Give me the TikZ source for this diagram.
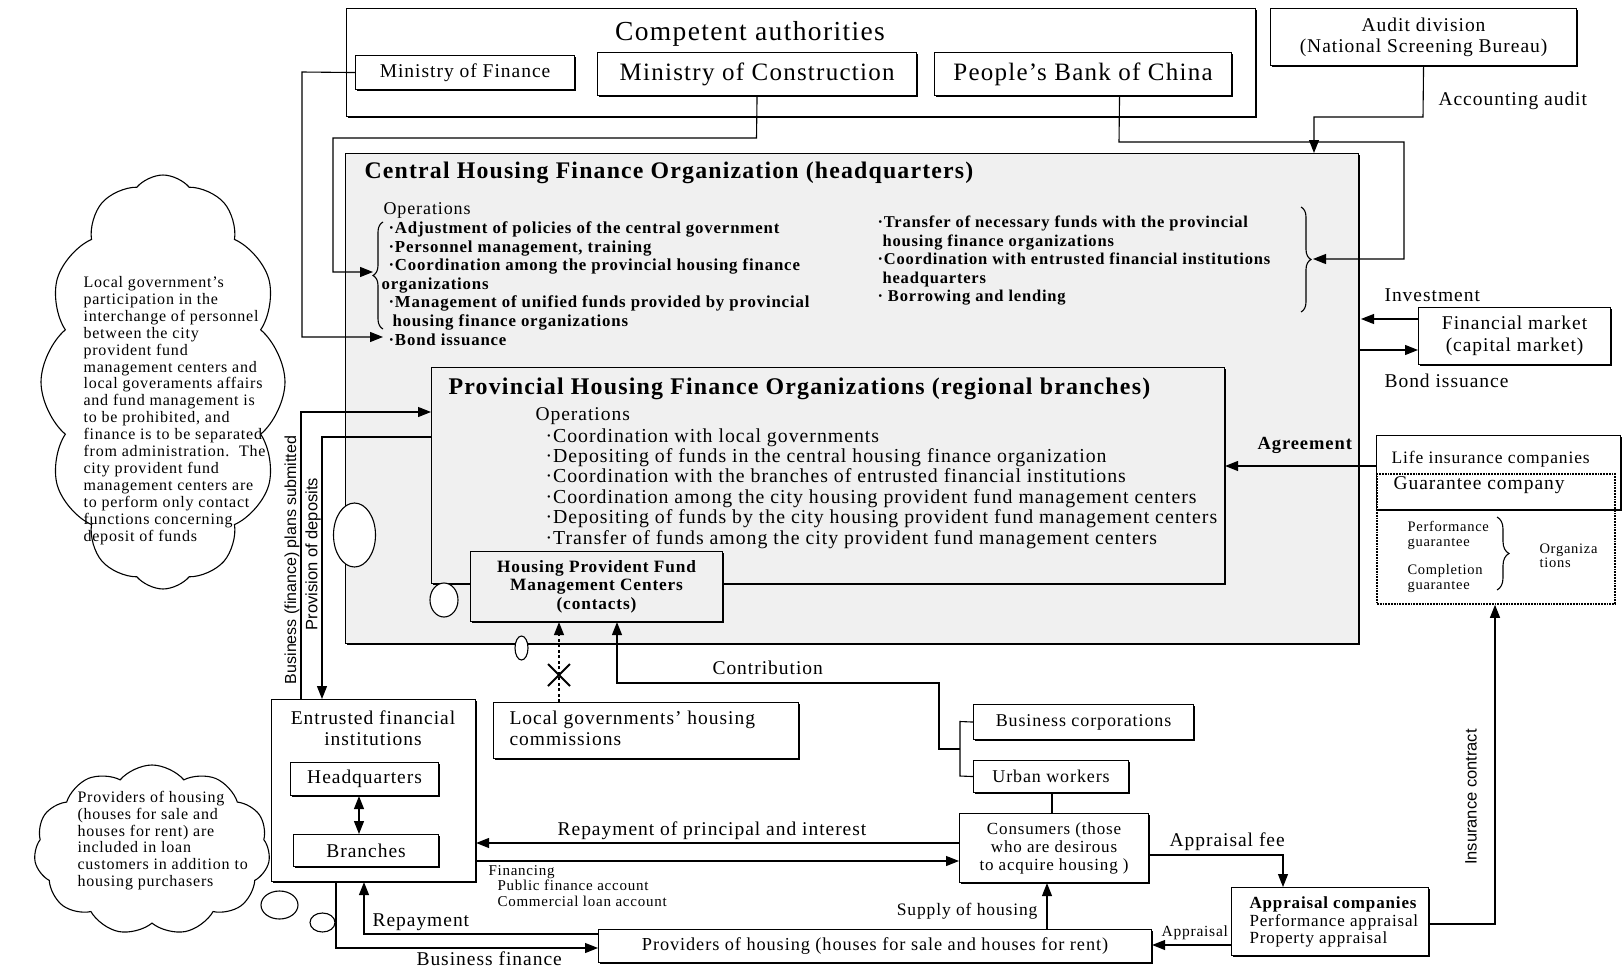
\documentclass[tikz,border=0pt]{standalone}
\usepackage{fontspec}
\setmainfont{Liberation Serif}[LetterSpace=5]
\newfontfamily\sansf{Liberation Sans}
\usetikzlibrary{arrows.meta,shapes.symbols,shadows,decorations.pathreplacing}
\newcommand\fs[2]{\fontsize{#1}{#2}\selectfont}
\newcommand\txtlines[6]{%
  \foreach \t [count=\i from 0] in {#6}
    \node[anchor=base west, inner sep=0pt, font={#5}] (#1\i) at (#2,{#3+\i*#4}) {\t};}
\begin{document}
\begin{tikzpicture}[x=1pt,y=-1pt,line width=1.1pt,
  >={Triangle[length=13pt,width=10pt]},
  box/.style={draw,line width=1.1pt,fill=white,inner sep=0pt,anchor=north west,
     general shadow={fill=black,shadow xshift=1.8pt,shadow yshift=-1.8pt}},
  lbl/.style={inner sep=0pt,font=\fs{19.5}{21}},
  sml/.style={inner sep=0pt,font=\fs{15.5}{16}},
  arr/.style={line width=1.1pt,->},
  brc/.style={line width=1.1pt,decorate,decoration={brace,amplitude=10pt}}
]
\fill[white] (0,0) rectangle (1622,969);
\useasboundingbox (0,0) rectangle (1622,969);

% ---------- competent authorities
\node[box,minimum width=909pt,minimum height=108pt] (comp) at (346,8) {};
\node[inner sep=0pt,font=\fs{27.5}{28}] (comptitle) at (750,34) {Competent authorities};
\node[box,minimum width=219pt,minimum height=34pt,font=\fs{19.5}{20}] (mof) at (355,55) {Ministry of Finance};
\node[box,minimum width=319pt,minimum height=43pt,font=\fs{25}{26}] (moc) at (597,52) {Ministry of Construction};
\node[box,minimum width=297pt,minimum height=43pt,font=\fs{25}{26}] (pboc) at (934,52) {People's Bank of China};
\node[box,minimum width=306pt,minimum height=57pt,align=center,font=\fs{19.5}{21}] (audit) at (1270,8) {Audit division\\(National Screening Bureau)};
\node[lbl,anchor=base west] (acclab) at (1438,105.5) {Accounting audit};

% ---------- central organisation
\node[box,fill=black!6,minimum width=1013pt,minimum height=490pt] (central) at (345,153) {};
\node[anchor=base west,inner sep=0pt,font=\bfseries\fs{23.8}{24}] (ctitle) at (364,178.5) {Central Housing Finance Organization (headquarters)};
\node[anchor=base west,inner sep=0pt,font=\fs{18}{18}] (cops) at (383,214) {Operations};
\txtlines{cl}{388}{233.5}{18.6}{\bfseries\fs{16.8}{17}}{{·Adjustment of policies of the central government},{·Personnel management, training},{·Coordination among the provincial housing finance}}
\node[anchor=base west,inner sep=0pt,font=\bfseries\fs{16.8}{17}] (clorg) at (381,289) {organizations};
\txtlines{cm}{388}{307.5}{18.8}{\bfseries\fs{16.8}{17}}{{·Management of unified funds provided by provincial},{\hspace*{4pt}housing finance organizations},{·Bond issuance}}
\txtlines{cr}{877}{227.5}{18.6}{\bfseries\fs{16.5}{17}}{{·Transfer of necessary funds with the provincial},{\hspace*{5pt}housing finance organizations},{·Coordination with entrusted financial institutions},{\hspace*{5pt}headquarters},{· Borrowing and lending}}
\draw[brc] (383,329) -- (383,222);
\draw[brc] (1301,207) -- (1301,312);

% ---------- provincial organisations
\node[box,fill=black!6,minimum width=793pt,minimum height=216pt] (prov) at (431,367) {};
\node[anchor=base west,inner sep=0pt,font=\bfseries\fs{23.9}{24}] (ptitle) at (448,394.5) {Provincial Housing Finance Organizations (regional branches)};
\node[anchor=base west,inner sep=0pt,font=\fs{19.5}{19}] (pops) at (535,420) {Operations};
\txtlines{pl}{545}{442}{20.4}{\fs{19.8}{19}}{{·Coordination with local governments},{·Depositing of funds in the central housing finance organization},{·Coordination with the branches of entrusted financial institutions},{·Coordination among the city housing provident fund management centers},{·Depositing of funds by the city housing provident fund management centers},{·Transfer of funds among the city provident fund management centers}}

\node[box,fill=black!6,minimum width=252pt,minimum height=70pt,align=center,font=\bfseries\fs{17.3}{18.5}] (hp) at (470,551) {Housing Provident Fund\\Management Centers\\(contacts)};

% ellipses
\draw[fill=white] (354.5,535) ellipse [x radius=21, y radius=32];
\draw[fill=white] (444,600) ellipse [x radius=14, y radius=17];
\draw[fill=white] (521.5,648) ellipse [x radius=6.5, y radius=12];
\draw[fill=white] (279.5,905) ellipse [x radius=18.5, y radius=14];
\draw[fill=white] (322.5,922.5) ellipse [x radius=12.5, y radius=9.5];

% ---------- right side
\node[box,minimum width=192pt,minimum height=57pt,align=center,font=\fs{19.5}{22}] (fm) at (1418,307) {Financial market\\(capital market)};
\node[lbl,anchor=base west] (invlab) at (1384,301.5) {Investment};
\node[lbl,anchor=base west] (bondlab) at (1384,387.5) {Bond issuance};
\node[box,minimum width=244pt,minimum height=74pt] (life) at (1376,435) {};
\node[anchor=base west,inner sep=0pt,font=\fs{17.5}{18}] (lifelab) at (1391,463) {Life insurance companies};
\node[draw,densely dotted,line width=1.8pt,minimum width=238pt,minimum height=130pt,anchor=north west,inner sep=0pt] (guar) at (1376,473) {};
\node[lbl,anchor=base west] (guarlab) at (1393,489.5) {Guarantee company};
\txtlines{pg}{1407}{531}{15.5}{\fs{14.5}{15}}{{Performance},{guarantee}}
\txtlines{cg}{1407}{574}{15.5}{\fs{14.5}{15}}{{Completion},{guarantee}}
\txtlines{og}{1539}{553}{14}{\fs{14.5}{15}}{{Organiza},{tions}}
\draw[brc,decoration={brace,amplitude=12pt}] (1497,517) -- (1497,590);
\node[anchor=base west,inner sep=0pt,font=\bfseries\fs{18.5}{19}] (agrlab) at (1257,449) {Agreement};

% ---------- lower part
\node[box,minimum width=305pt,minimum height=56pt] (lg) at (493,702) {};
\txtlines{lgt}{509}{724.5}{21}{\fs{19.5}{20}}{{Local governments' housing},{commissions}}

\node[box,minimum width=204pt,minimum height=182pt] (ent) at (271,699) {};
\node[inner sep=0pt,align=center,font=\fs{19.5}{21}] (enttitle) at (373,728) {Entrusted financial\\institutions};
\node[box,minimum width=148pt,minimum height=33pt,font=\fs{19.5}{20}] (hq) at (290,762) {Headquarters};
\node[box,minimum width=145pt,minimum height=32pt,font=\fs{19.5}{20}] (brn) at (293,834) {Branches};

\node[box,minimum width=220pt,minimum height=35pt,font=\fs{18}{18}] (bc) at (973,704) {Business corporations};
\node[box,minimum width=155pt,minimum height=32pt,font=\fs{18}{18}] (uw) at (973,760) {Urban workers};
\node[box,minimum width=189pt,minimum height=69pt,align=center,font=\fs{17}{18}] (cons) at (959,813) {Consumers (those\\who are desirous\\to acquire housing )};
\node[box,minimum width=197pt,minimum height=68pt] (appr) at (1231,887) {};
\node[anchor=base west,inner sep=0pt,font=\bfseries\fs{17}{18}] (apprt) at (1249,908) {Appraisal companies};
\txtlines{apl}{1249}{926}{17.5}{\fs{17}{18}}{{Performance appraisal},{Property appraisal}}
\node[box,minimum width=553pt,minimum height=33pt,font=\fs{18.3}{19}] (provh) at (598,929) {Providers of housing (houses for sale and houses for rent)};

% labels lower
\node[lbl,anchor=base] (reppi) at (712,835.5) {Repayment of principal and interest};
\txtlines{fin}{488}{875}{15.5}{\fs{15}{15}}{{Financing}}
\txtlines{acc}{497}{890.5}{15.5}{\fs{15}{15}}{{Public finance account},{Commercial loan account}}
\node[lbl,anchor=base west] (contrlab) at (712,674.5) {Contribution};
\node[lbl,anchor=base east,font=\fs{17.5}{18}] (supplab) at (1038,915) {Supply of housing};
\node[lbl,anchor=base west] (afeelab) at (1169,846.5) {Appraisal fee};
\node[sml,anchor=base west] (applab) at (1161,936.5) {Appraisal};
\node[lbl,anchor=base west] (replab) at (372,926.5) {Repayment};
\node[lbl,anchor=base west] (bflab) at (416,965) {Business finance};
\node[rotate=90,inner sep=0pt,font=\sansf\fs{16}{16}] (bplab) at (292,560) {Business (finance) plans submitted};
\node[rotate=90,inner sep=0pt,font=\sansf\fs{16.5}{17}] (provlab) at (313,554) {Provision of deposits};
\node[rotate=90,inner sep=0pt,font=\sansf\fs{16.5}{17}] (inslab) at (1471,797) {Insurance contract};

% clouds
\node[cloud,draw,line width=1.1pt,cloud puffs=12,cloud puff arc=100,cloud ignores aspect,minimum width=244pt,minimum height=414pt,inner sep=0pt] (cloud1) at (163,382) {};
\txtlines{ca}{83}{287.5}{16.9}{\fs{16}{16}}{{Local government's},{participation in the},{interchange of personnel},{between the city},{provident fund},{management centers and},{local goveraments affairs},{and fund management is},{to be prohibited, and},{finance is to be separated},{from administration.\ \ The},{city provident fund},{management centers are},{to perform only contact},{functions concerning},{deposit of funds}}
\node[cloud,draw,line width=1.1pt,cloud puffs=11,cloud puff arc=100,cloud ignores aspect,minimum width=236pt,minimum height=170pt,inner sep=0pt] (cloud2) at (152,850) {};
\txtlines{cb}{77}{802.5}{16.8}{\fs{16}{16}}{{Providers of housing},{(houses for sale and},{houses for rent) are},{included in loan},{customers in addition to},{housing purchasers}}

% ---------- connectors
\coordinate (bondin) at (383,337);
\draw[arr] (mof.west) -- (302,72) |- (bondin);
\coordinate (lbt) at (373,272);
\draw[arr] (moc.south) -- (756.5,138) -| (333,272) -- (lbt);
\coordinate (rbt) at (1313,259);
\draw[arr] ([xshift=36.5pt]pboc.south) -- (1119,142) -- (1404,142) |- (rbt);
\draw[arr] (audit.south) -- (1423,117) -| (central.north -| 1314,0);
\draw[arr] (fm.west |- 0,319) -- (1361,319);
\draw[arr] (1360,350) -- (fm.west |- 0,350);
\draw[arr] (life.west |- 0,466) -- (prov.east |- 0,466);
\draw[arr] (appr.east |- 0,924) -| (guar.south -| 1495,0);
\draw[arr] (cons.east |- 0,855) -| (appr.north -| 1283,0);
\draw[arr] (appr.west |- 0,945) -- (provh.east |- 0,945);
\draw[arr] (provh.north -| 1047,0) -- (cons.south -| 1047,0);
\draw (uw.south -| 1052,0) -- (cons.north -| 1052,0);
\draw (bc.west) -- (960,721.5) -- (960,776) -- (uw.west);
\draw[arr] (960,749) -- (939,749) -- (939,683) -| (hp.south -| 617,0);
\draw[arr,dash pattern=on 3pt off 2.5pt] (lg.north -| 559,0) -- (hp.south -| 559,0);
\draw[line width=2pt] (548,664) -- (570,686) (548,686) -- (570,664);
\draw[arr] (cons.west |- 0,843) -- (ent.east |- 0,843);
\draw[arr] (ent.east |- 0,861) -- (cons.west |- 0,861);
\draw[<->] (hq.south -| 359,0) -- (brn.north -| 359,0);
\draw[arr] (provh.west |- 0,934) -- (364,934) -- (ent.south -| 364,0);
\draw[arr] (ent.south -| 336,0) -- (336,948) -- (provh.west |- 0,948);
\draw[arr] (ent.north -| 301,0) -- (301,412) -- (prov.west |- 0,412);
\draw[arr] (prov.west |- 0,437) -- (322,437) -- (ent.north -| 322,0);
\end{tikzpicture}
\end{document}
